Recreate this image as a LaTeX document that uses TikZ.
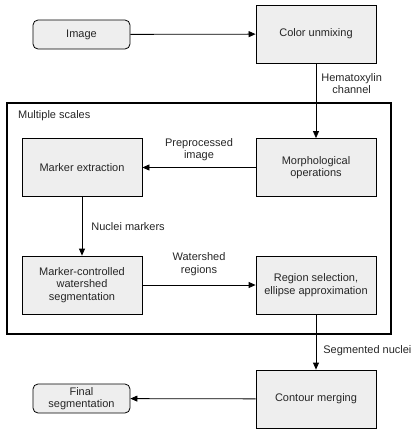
\documentclass[tikz,border=0pt]{standalone}
\usepackage{fontspec}
\setmainfont{Liberation Sans}
\usepackage{xcolor}
\usetikzlibrary{arrows.meta}

\tikzset{
  stepbox/.style={draw, thick, fill=gray!13, minimum width=120pt, minimum height=58pt, align=center, inner sep=2pt},
  endbox/.style={draw, thick, fill=gray!13, rounded corners=5pt, minimum width=97pt, minimum height=29pt, align=center, inner sep=1pt},
  flow/.style={thick, -{Triangle[length=7pt,width=6pt]}},
  lbl/.style={align=center, inner sep=0pt}
}

\begin{document}
\begin{tikzpicture}[x=1pt,y=-1pt,font=\fontsize{11}{12.5}\selectfont,text=black!85]
  \useasboundingbox (0,0) rectangle (415,432);
  \draw [line width=1.3pt] (7,103) rectangle (391,334);
  \node [lbl, anchor=west] (scales) at (18,116) {Multiple scales};
  \node [endbox] (img) at (81.5,34.5) {Image};
  \node [stepbox] (unmix) at (316,34) {Color unmixing};
  \node [stepbox] (morph) at (316,167.5) {Morphological\\operations};
  \node [stepbox] (marker) at (82,167.5) {Marker extraction};
  \node [stepbox] (wshed) at (82,285) {Marker-controlled\\watershed\\segmentation};
  \node [stepbox] (region) at (316,285) {Region selection,\\ellipse approximation};
  \node [stepbox] (merge) at (316,399) {Contour merging};
  \node [endbox] (final) at (81.5,398.5) {Final\\segmentation};
  \draw [flow] (img) -- (unmix);
  \draw [flow] (unmix) -- (morph) node [lbl, pos=0.27, right=5pt] (hema) {Hematoxylin\\channel};
  \draw [flow] (morph) -- (marker) node [lbl, midway, above=6pt] (prep) {Preprocessed\\image};
  \draw [flow] (marker) -- (wshed) node [lbl, midway, right=9pt] (nucm) {Nuclei markers};
  \draw [flow] (wshed) -- (region) node [lbl, midway, above=9pt] (wreg) {Watershed\\regions};
  \draw [flow] (region) -- (merge) node [lbl, pos=0.65, right=7pt] (segn) {Segmented nuclei};
  \draw [flow] (merge) -- (final);
\end{tikzpicture}
\end{document}
